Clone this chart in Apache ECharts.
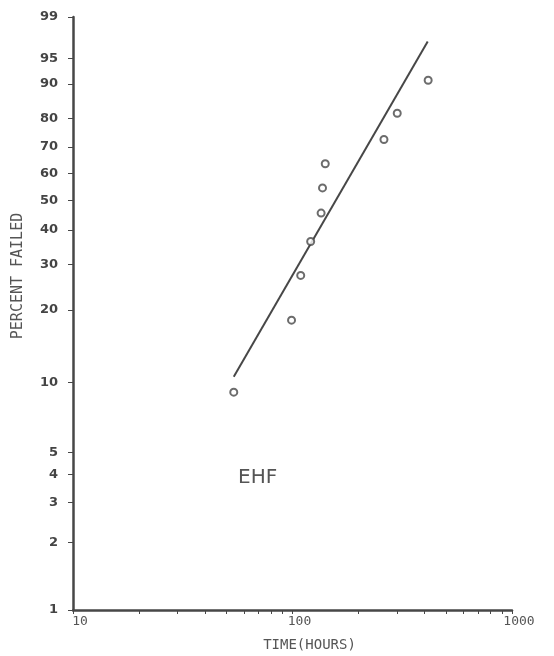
<!DOCTYPE html>
<html>
<head>
<meta charset="utf-8">
<script src="https://cdn.jsdelivr.net/npm/echarts@6/dist/echarts.min.js"></script>
<style>
html,body{margin:0;padding:0;background:#fff;}
#chart{width:554px;height:656px;}
</style>
</head>
<body>
<div id="chart"></div>
<script>
// ---- data ----
const timeHours = [54, 99, 109, 121, 135, 137, 141, 261, 300, 415];
const percentFailed = [9.1, 18.2, 27.3, 36.4, 45.5, 54.5, 63.6, 72.7, 81.8, 90.9];
const fitLineHours = [54, 413];
const fitLinePercent = [10.6, 97.2];
const yTickPercents = [1, 2, 3, 4, 5, 10, 20, 30, 40, 50, 60, 70, 80, 90, 95, 99];
const xTickLabels = [10, 100, 1000];
const xTickMarks = [10,20,30,40,50,60,70,80,90,100,200,300,400,500,600,700,800,900,1000];

// Weibull probability scale and log10 time scale
const W = p => Math.log(-Math.log(1 - p / 100));
const L = t => Math.log10(t);

const yTickVals = yTickPercents.map(W);
const ink = '#474747';

const chart = echarts.init(document.getElementById('chart'));
chart.setOption({
  animation: false,
  backgroundColor: '#ffffff',
  grid: { left: 73, right: 42, top: 17, bottom: 46, containLabel: false, outerBoundsMode: 'none' },
  xAxis: {
    type: 'value',
    min: L(10), max: L(1000),
    name: 'TIME(HOURS)',
    nameLocation: 'middle',
    nameGap: 28,
    nameTextStyle: { fontFamily: 'DejaVu Sans Mono', fontSize: 14, color: '#555', padding: [0, 0, 0, 34], verticalAlign: 'top' },
    axisLine: { show: true, onZero: false, lineStyle: { color: ink, width: 2.5 } },
    axisTick: { show: true, inside: false, length: 4, customValues: xTickMarks.map(L), lineStyle: { color: ink, width: 1 } },
    axisLabel: {
      show: true, margin: 5,
      customValues: xTickLabels.map(L),
      formatter: v => String(Math.round(Math.pow(10, v))),
      fontFamily: 'DejaVu Sans Mono', fontSize: 13, color: '#555',
      padding: [0, 0, 0, 14]
    },
    splitLine: { show: false }
  },
  yAxis: {
    type: 'value',
    min: W(1), max: W(99),
    name: 'PERCENT FAILED',
    nameLocation: 'middle',
    nameGap: 47,
    nameRotate: 90,
    nameTextStyle: { fontFamily: 'DejaVu Sans Mono', fontSize: 15, color: '#555', padding: [0, 0, 0, 75] },
    axisLine: { show: true, onZero: false, lineStyle: { color: ink, width: 2.5 } },
    axisTick: { show: true, inside: false, length: 5, customValues: yTickVals, lineStyle: { color: ink, width: 1 } },
    axisLabel: {
      show: true, margin: 15,
      customValues: yTickVals,
      formatter: v => {
        let best = 0, bd = Infinity;
        yTickVals.forEach((t, i) => { const d = Math.abs(t - v); if (d < bd) { bd = d; best = i; } });
        return String(yTickPercents[best]);
      },
      fontFamily: 'DejaVu Sans', fontWeight: 'bold', fontSize: 13, color: '#444',
      padding: [0, 0, 6, 0]
    },
    splitLine: { show: false }
  },
  series: [
    {
      type: 'line',
      data: fitLineHours.map((t, i) => [L(t), W(fitLinePercent[i])]),
      symbol: 'none',
      lineStyle: { color: ink, width: 2 },
      z: 2
    },
    {
      type: 'scatter',
      data: timeHours.map((t, i) => [L(t), W(percentFailed[i])]),
      symbol: 'circle',
      symbolSize: 7,
      itemStyle: { color: '#ffffff', borderColor: ink, borderWidth: 2 },
      z: 3
    }
  ],
  graphic: [
    {
      type: 'text', left: 238, top: 468,
      style: { text: 'EHF', fontFamily: 'DejaVu Sans', fontSize: 20, fill: '#555' }
    }
  ]
});
</script>
</body>
</html>
